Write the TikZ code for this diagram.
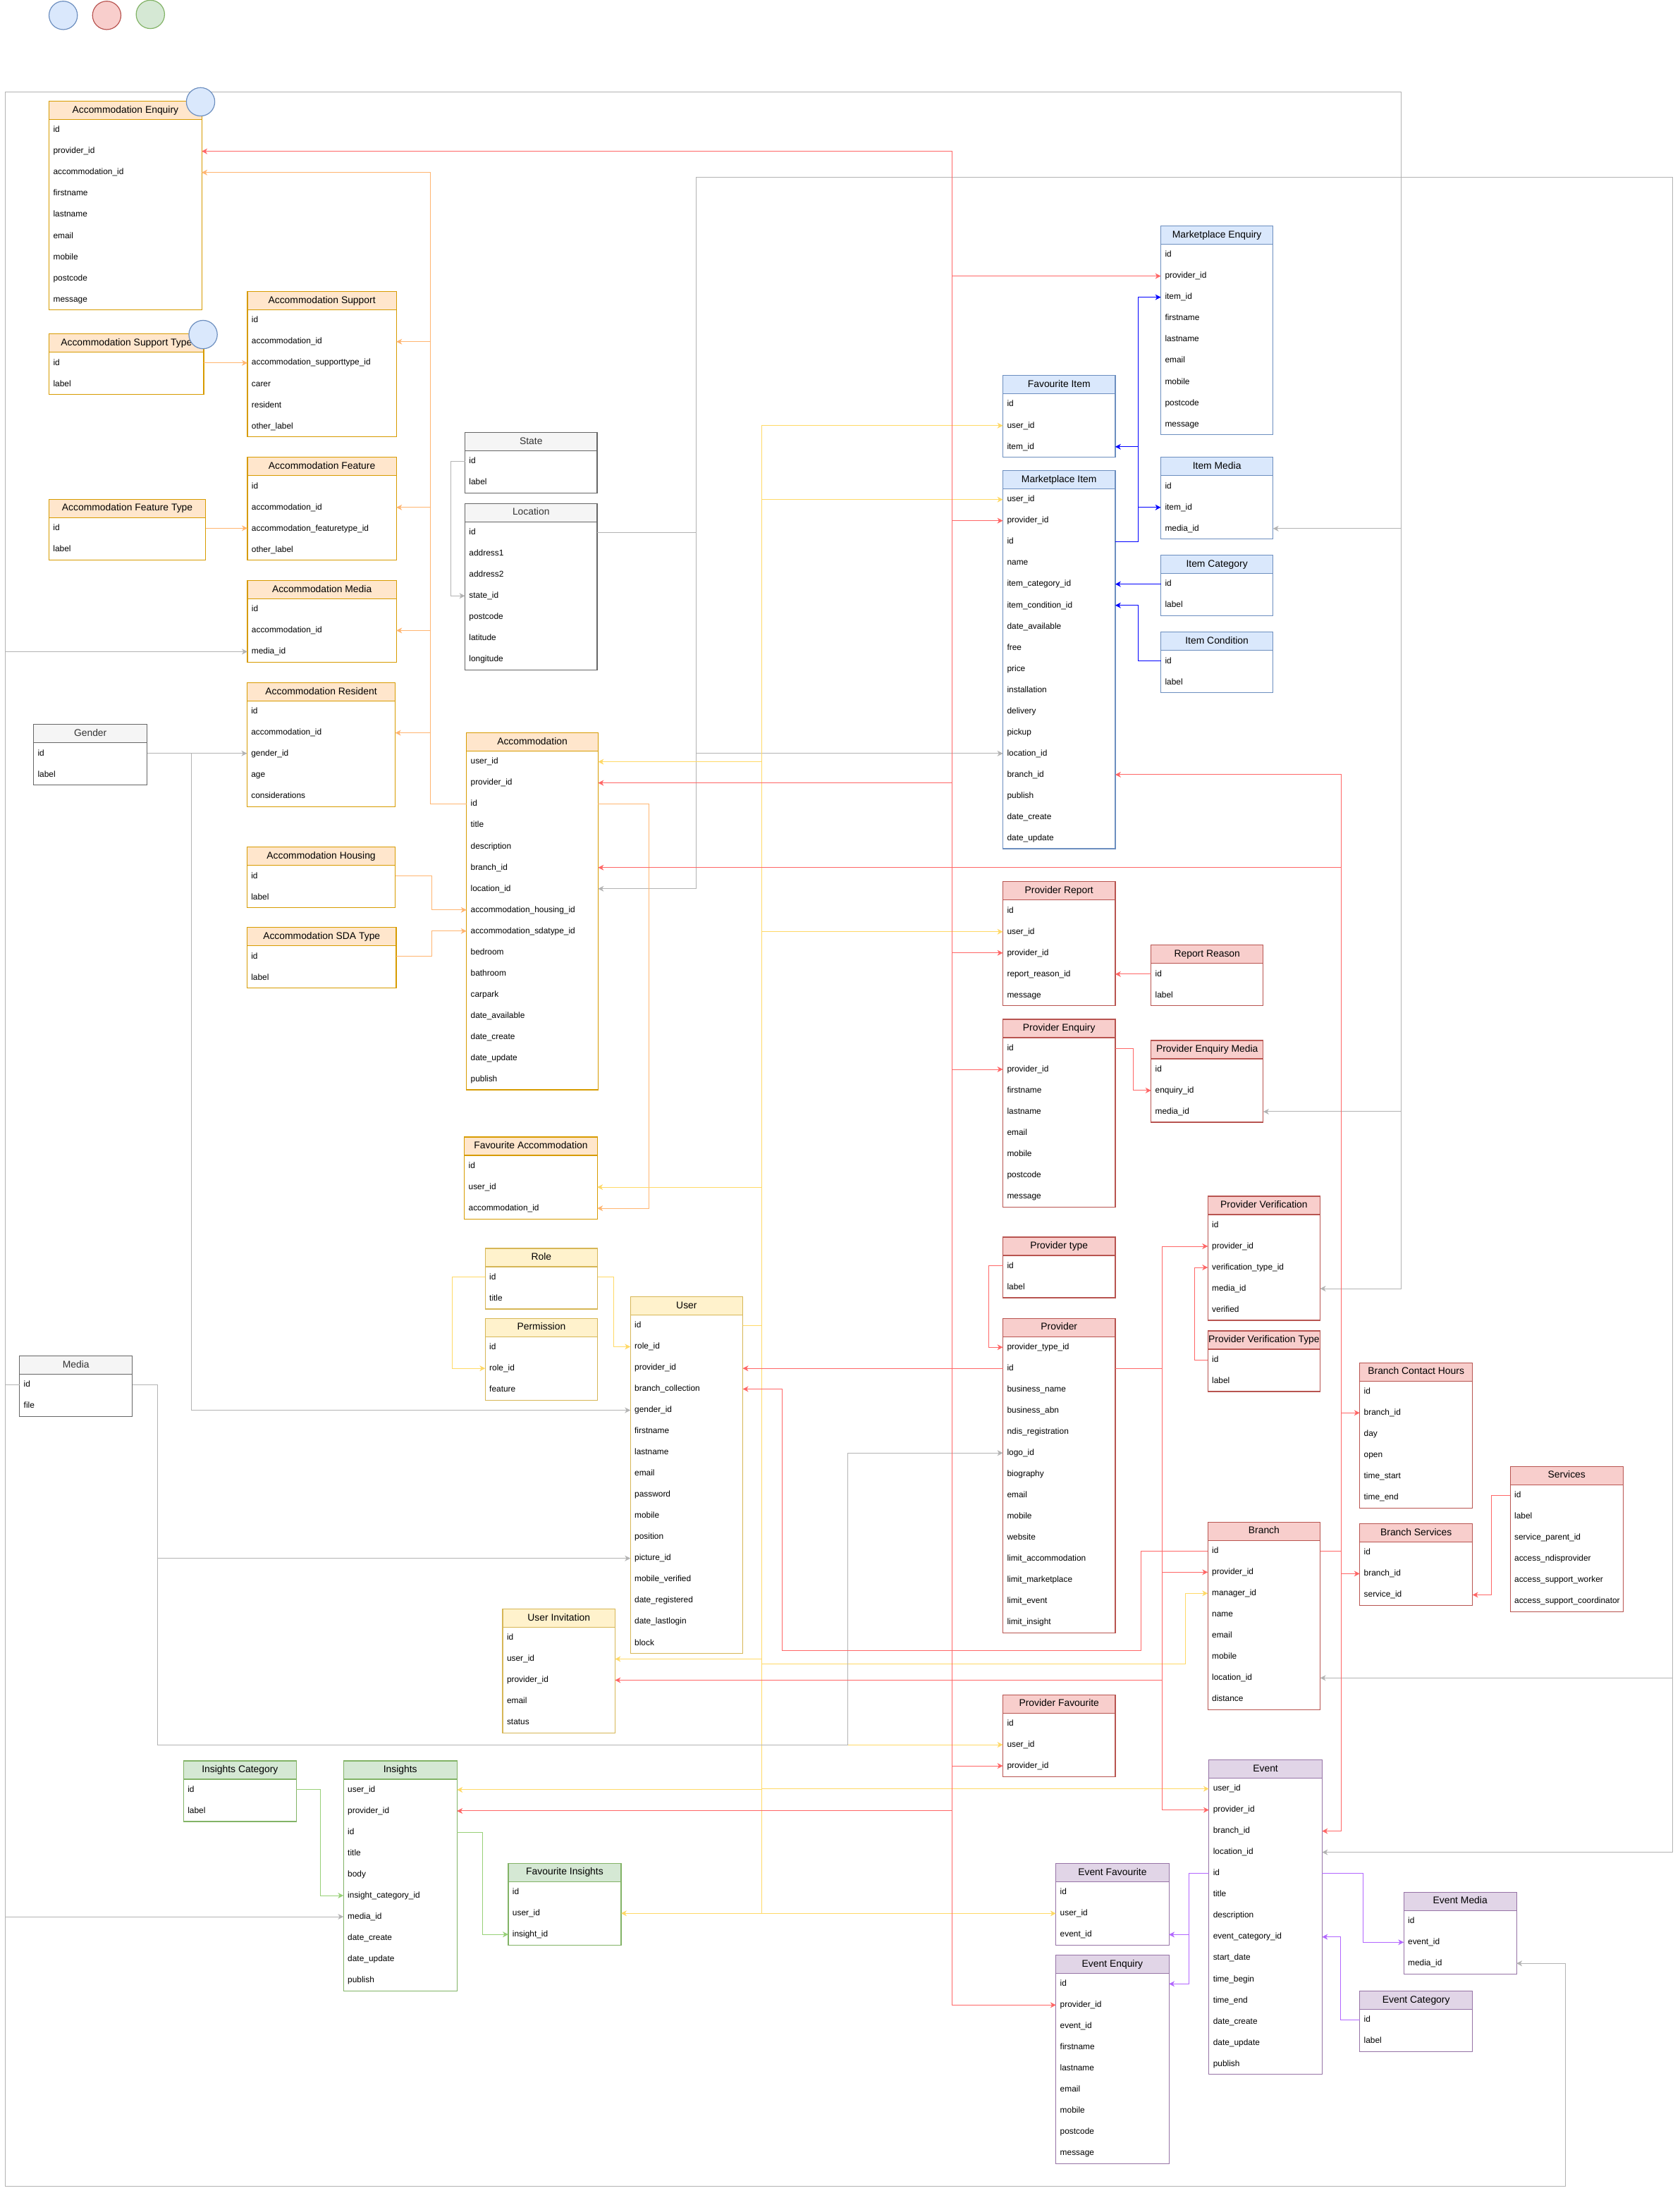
\documentclass[tikz,border=0pt]{standalone}
\usepackage{fontspec}
\setmainfont{Liberation Sans}
\usetikzlibrary{arrows.meta}
\definecolor{oraF}{HTML}{FFE6CC}\definecolor{oraS}{HTML}{D79B00}\definecolor{oraT}{HTML}{000000}
\definecolor{yelF}{HTML}{FFF2CC}\definecolor{yelS}{HTML}{D6B656}\definecolor{yelT}{HTML}{000000}
\definecolor{gryF}{HTML}{F5F5F5}\definecolor{gryS}{HTML}{666666}\definecolor{gryT}{HTML}{333333}
\definecolor{bluF}{HTML}{DAE8FC}\definecolor{bluS}{HTML}{6C8EBF}\definecolor{bluT}{HTML}{000000}
\definecolor{redF}{HTML}{F8CECC}\definecolor{redS}{HTML}{B85450}\definecolor{redT}{HTML}{000000}
\definecolor{grnF}{HTML}{D5E8D4}\definecolor{grnS}{HTML}{82B366}\definecolor{grnT}{HTML}{000000}
\definecolor{purF}{HTML}{E1D5E7}\definecolor{purS}{HTML}{9673A6}\definecolor{purT}{HTML}{000000}
\definecolor{cOra}{HTML}{FFB570}
\definecolor{cYel}{HTML}{FFD966}
\definecolor{cRed}{HTML}{FF6666}
\definecolor{cBlu}{HTML}{0000FF}
\definecolor{cGrn}{HTML}{97D077}
\definecolor{cPur}{HTML}{B266FF}
\definecolor{cGry}{HTML}{B3B3B3}
\tikzset{
  hdr/.style={anchor=north west, minimum height=13.1pt, inner sep=0pt, outer sep=0pt, line width=0.6pt, text height=5.1pt, text depth=1.4pt, font=\fontsize{7}{8}\selectfont},
  rowcell/.style={anchor=north west, minimum height=15.13pt, inner xsep=3pt, inner ysep=0pt, outer sep=0pt, align=left, text height=4.6pt, text depth=1.3pt, font=\fontsize{6}{7}\selectfont},
  tblbox/.style={line width=0.6pt},
  conn/.style={line width=0.5pt, -{Stealth[length=4pt,width=4pt,inset=1.2pt]}},
  lnOra/.style={conn, draw=cOra},
  lnYel/.style={conn, draw=cYel},
  lnRed/.style={conn, draw=cRed},
  lnBlu/.style={conn, draw=cBlu},
  lnGrn/.style={conn, draw=cGrn},
  lnPur/.style={conn, draw=cPur},
  lnGry/.style={conn, draw=cGry},
  dot/.style={circle, minimum size=20.3pt, inner sep=0pt, line width=0.6pt},
}
\newcommand\tbl[7]{%
  \node[hdr, fill=#6F, draw=#6S, text=#6T, minimum width=#4pt] (#1) at (#2,#3) {#5};
  \pgfmathsetmacro\tblw{#4-6}%
  \foreach \fld [count=\rowi] in {#7} {%
    \node[rowcell, text width=\tblw pt] (#1\rowi) at ({#2},{#3+13.1+(\rowi-1)*15.13}) {\fld};
    \xdef\tbllast{\rowi}%
  }%
  \draw[tblbox, draw=#6S] (#1.north west) rectangle (#1\tbllast.south east);
}
\newcommand\lnk[4]{\draw[#1] (#2) -- (#2 -| #3) |- (#4);}
\newcommand\lns[3]{\draw[#1] (#2) -- (#2 -| #3);}
\begin{document}
\catcode`\_=12
\begin{tikzpicture}[x=1pt,y=-1pt]
\useasboundingbox (0,0) rectangle (1200.6,1568);
\fill[white] (0,0) rectangle (1200.6,1568);

% ---------------- tables ----------------
\tbl{ae}{35.1}{72.4}{109.1}{Accommodation Enquiry}{ora}{id,provider_id,accommodation_id,firstname,lastname,email,mobile,postcode,message}
\tbl{ast}{35.1}{238.8}{110.6}{Accommodation Support Type}{ora}{id,label}
\tbl{as}{176.9}{208.5}{106.5}{Accommodation Support}{ora}{id,accommodation_id,accommodation_supporttype_id,carer,resident,other_label}
\tbl{aft}{35}{357}{112}{Accommodation Feature Type}{ora}{id,label}
\tbl{af}{176.9}{327}{106.5}{Accommodation Feature}{ora}{id,accommodation_id,accommodation_featuretype_id,other_label}
\tbl{am}{176.9}{415}{106.5}{Accommodation Media}{ora}{id,accommodation_id,media_id}
\tbl{ar}{176.6}{488.2}{106}{Accommodation Resident}{ora}{id,accommodation_id,gender_id,age,considerations}
\tbl{ah}{176.6}{605.7}{106}{Accommodation Housing}{ora}{id,label}
\tbl{asda}{176.6}{663.2}{106.7}{Accommodation SDA Type}{ora}{id,label}
\tbl{gen}{24}{518}{81.2}{Gender}{gry}{id,label}
\tbl{st}{332.4}{309.2}{94.5}{State}{gry}{id,label}
\tbl{loc}{332.4}{360}{94.5}{Location}{gry}{id,address1,address2,state_id,postcode,latitude,longitude}
\tbl{acc}{333.5}{524}{94.1}{Accommodation}{ora}{user_id,provider_id,id,title,description,branch_id,location_id,accommodation_housing_id,accommodation_sdatype_id,bedroom,bathroom,carpark,date_available,date_create,date_update,publish}
\tbl{fa}{332}{813}{95}{Favourite Accommodation}{ora}{id,user_id,accommodation_id}
\tbl{role}{346.9}{892.6}{80.3}{Role}{yel}{id,title}
\tbl{perm}{346.9}{942.6}{80.3}{Permission}{yel}{id,role_id,feature}
\tbl{usr}{450.7}{927.1}{80.3}{User}{yel}{id,role_id,provider_id,branch_collection,gender_id,firstname,lastname,email,password,mobile,position,picture_id,mobile_verified,date_registered,date_lastlogin,block}
\tbl{ui}{359.4}{1150.4}{80.3}{User Invitation}{yel}{id,user_id,provider_id,email,status}
\tbl{med}{14}{969.5}{80.6}{Media}{gry}{id,file}
\tbl{ic}{131.2}{1259}{80.7}{Insights Category}{grn}{id,label}
\tbl{ins}{245.6}{1259}{81.1}{Insights}{grn}{user_id,provider_id,id,title,body,insight_category_id,media_id,date_create,date_update,publish}
\tbl{fins}{363.4}{1332.2}{80.6}{Favourite Insights}{grn}{id,user_id,insight_id}
\tbl{me}{829.9}{161.6}{80.2}{Marketplace Enquiry}{blu}{id,provider_id,item_id,firstname,lastname,email,mobile,postcode,message}
\tbl{fit}{717}{268.5}{80.3}{Favourite Item}{blu}{id,user_id,item_id}
\tbl{mi}{717}{336.5}{80.3}{Marketplace Item}{blu}{user_id,provider_id,id,name,item_category_id,item_condition_id,date_available,free,price,installation,delivery,pickup,location_id,branch_id,publish,date_create,date_update}
\tbl{imd}{829.9}{327}{80.2}{Item Media}{blu}{id,item_id,media_id}
\tbl{icat}{829.9}{397}{80.2}{Item Category}{blu}{id,label}
\tbl{icond}{829.9}{452}{80.2}{Item Condition}{blu}{id,label}
\tbl{pr}{717}{630.4}{80.3}{Provider Report}{red}{id,user_id,provider_id,report_reason_id,message}
\tbl{rr}{822.9}{675.8}{80.2}{Report Reason}{red}{id,label}
\tbl{pe}{717}{728.8}{80.3}{Provider Enquiry}{red}{id,provider_id,firstname,lastname,email,mobile,postcode,message}
\tbl{pem}{822.9}{743.9}{80.2}{Provider Enquiry Media}{red}{id,enquiry_id,media_id}
\tbl{pt}{717}{884.5}{80.3}{Provider type}{red}{id,label}
\tbl{prov}{717}{942.6}{80.3}{Provider}{red}{provider_type_id,id,business_name,business_abn,ndis_registration,logo_id,biography,email,mobile,website,limit_accommodation,limit_marketplace,limit_event,limit_insight}
\tbl{pv}{863.5}{855.3}{80.3}{Provider Verification}{red}{id,provider_id,verification_type_id,media_id,verified}
\tbl{pvt}{863.5}{951.6}{80.3}{Provider Verification Type}{red}{id,label}
\tbl{bch}{972.1}{974.4}{80.6}{Branch Contact Hours}{red}{id,branch_id,day,open,time_start,time_end}
\tbl{srv}{1079.7}{1048.4}{80.7}{Services}{red}{id,label,service_parent_id,access_ndisprovider,access_support_worker,access_support_coordinator}
\tbl{bs}{972.1}{1089.4}{80.6}{Branch Services}{red}{id,branch_id,service_id}
\tbl{br}{863.5}{1088.3}{80.3}{Branch}{red}{id,provider_id,manager_id,name,email,mobile,location_id,distance}
\tbl{pf}{717}{1211.7}{80.3}{Provider Favourite}{red}{id,user_id,provider_id}
\tbl{ev}{864.3}{1258.3}{80.9}{Event}{pur}{user_id,provider_id,branch_id,location_id,id,title,description,event_category_id,start_date,time_begin,time_end,date_create,date_update,publish}
\tbl{ef}{754.9}{1332.3}{80.8}{Event Favourite}{pur}{id,user_id,event_id}
\tbl{ee}{754.9}{1397.8}{80.8}{Event Enquiry}{pur}{id,provider_id,event_id,firstname,lastname,email,mobile,postcode,message}
\tbl{emd}{1003.6}{1352.9}{80.6}{Event Media}{pur}{id,event_id,media_id}
\tbl{ecat}{972.1}{1423.5}{80.6}{Event Category}{pur}{id,label}

% ---------------- routing coordinates ----------------
\coordinate (xOra) at (307.7,0);
\coordinate (xFA) at (464,0);
\coordinate (xHs) at (308.5,0);
\coordinate (xYel) at (544.5,0);
\coordinate (xRoleR) at (438.9,0);
\coordinate (xRoleL) at (323.3,0);
\coordinate (cMgrA) at (544.5,1189.6);
\coordinate (cMgrB) at (847.6,1189.6);
\coordinate (xRed) at (680.8,0);
\coordinate (xPv) at (831,0);
\coordinate (xPt) at (707,0);
\coordinate (xPe) at (810,0);
\coordinate (xPvt) at (854.2,0);
\coordinate (xSrv) at (1066.2,0);
\coordinate (cBrA) at (815.5,1180);
\coordinate (cBrB) at (559.4,1180);
\coordinate (xBr) at (958.7,0);
\coordinate (xBlu) at (813.7,0);
\coordinate (xIc) at (229.2,0);
\coordinate (xIns) at (345,0);
\coordinate (xEvL) at (850.2,0);
\coordinate (xEvR) at (974.3,0);
\coordinate (xEcat) at (958.6,0);
\coordinate (xSt) at (322.3,0);
\coordinate (xLoc) at (497.7,0);
\coordinate (cLocA) at (497.7,127);
\coordinate (cLocB) at (1196,127);
\coordinate (xGen) at (136.8,0);
\coordinate (xMedL) at (3.8,0);
\coordinate (cMedTL) at (3.8,66);
\coordinate (cMedTR) at (1001.6,66);
\coordinate (cMedBL) at (3.8,1563);
\coordinate (cMedBR) at (1119,1563);
\coordinate (xMedR) at (112.4,0);
\coordinate (cMedC) at (112.4,1247.6);
\coordinate (cMedD) at (606.2,1247.6);

% ---------------- gray (location, state, gender, media) ----------------
\lnk{lnGry}{st1.west}{xSt}{loc4.west}
\lnk{lnGry}{loc1.east}{xLoc}{acc7.east}
\lnk{lnGry}{loc1.east}{xLoc}{mi13.west}
\draw[lnGry] (loc1.east) -| (cLocA) -- (cLocB) |- (ev4.east);
\draw[lnGry] (loc1.east) -| (cLocA) -- (cLocB) |- (br7.east);
\lns{lnGry}{gen1.east}{ar3.west}
\lnk{lnGry}{gen1.east}{xGen}{usr5.west}
\draw[lnGry] (med1.west) -| (cMedTL) -- (cMedTR) |- (pv4.east);
\draw[lnGry] (med1.west) -| (cMedTL) -- (cMedTR) |- (imd3.east);
\draw[lnGry] (med1.west) -| (cMedTL) -- (cMedTR) |- (pem3.east);
\lnk{lnGry}{med1.west}{xMedL}{am3.west}
\lnk{lnGry}{med1.west}{xMedL}{ins7.west}
\draw[lnGry] (med1.west) -| (cMedBL) -- (cMedBR) |- (emd3.east);
\lnk{lnGry}{med1.east}{xMedR}{usr12.west}

% ---------------- orange (accommodation) ----------------
\lnk{lnOra}{acc3.west}{xOra}{ae3.east}
\lnk{lnOra}{acc3.west}{xOra}{as2.east}
\lnk{lnOra}{acc3.west}{xOra}{af2.east}
\lnk{lnOra}{acc3.west}{xOra}{am2.east}
\lnk{lnOra}{acc3.west}{xOra}{ar2.east}
\lnk{lnOra}{acc3.east}{xFA}{fa3.east}
\lns{lnOra}{ast1.east}{as3.west}
\lns{lnOra}{aft1.east}{af3.west}
\lnk{lnOra}{ah1.east}{xHs}{acc8.west}
\lnk{lnOra}{asda1.east}{xHs}{acc9.west}

% ---------------- yellow (user) ----------------
\lnk{lnYel}{role1.west}{xRoleL}{perm2.west}
\lnk{lnYel}{role1.east}{xRoleR}{usr2.west}
\lnk{lnYel}{usr1.east}{xYel}{fit2.west}
\lnk{lnYel}{usr1.east}{xYel}{mi1.west}
\lnk{lnYel}{usr1.east}{xYel}{acc1.east}
\lnk{lnYel}{usr1.east}{xYel}{pr2.west}
\lnk{lnYel}{usr1.east}{xYel}{fa2.east}
\lnk{lnYel}{usr1.east}{xYel}{ui2.east}
\lnk{lnYel}{usr1.east}{xYel}{pf2.west}
\lnk{lnYel}{usr1.east}{xYel}{ins1.east}
\lnk{lnYel}{usr1.east}{xYel}{ev1.west}
\lnk{lnYel}{usr1.east}{xYel}{fins2.east}
\lnk{lnYel}{usr1.east}{xYel}{ef2.west}
\draw[lnYel] (usr1.east) -| (cMgrA) -- (cMgrB) |- (br3.west);
\draw[lnGry] (med1.east) -| (cMedC) -- (cMedD) |- (prov6.west);

% ---------------- red (provider, branch) ----------------
\lns{lnRed}{prov2.west}{usr3.east}
\lnk{lnRed}{prov2.west}{xRed}{ae2.east}
\lnk{lnRed}{prov2.west}{xRed}{me2.west}
\lnk{lnRed}{prov2.west}{xRed}{mi2.west}
\lnk{lnRed}{prov2.west}{xRed}{acc2.east}
\lnk{lnRed}{prov2.west}{xRed}{pr3.west}
\lnk{lnRed}{prov2.west}{xRed}{pe2.west}
\lnk{lnRed}{prov2.west}{xRed}{pf3.west}
\lnk{lnRed}{prov2.west}{xRed}{ins2.east}
\lnk{lnRed}{prov2.west}{xRed}{ee2.west}
\lnk{lnRed}{prov2.east}{xPv}{pv2.west}
\lnk{lnRed}{prov2.east}{xPv}{br2.west}
\lnk{lnRed}{prov2.east}{xPv}{ui3.east}
\lnk{lnRed}{prov2.east}{xPv}{ev2.west}
\lnk{lnRed}{pt1.west}{xPt}{prov1.west}
\lns{lnRed}{rr1.west}{pr4.east}
\lnk{lnRed}{pe1.east}{xPe}{pem2.west}
\lnk{lnRed}{pvt1.west}{xPvt}{pv3.west}
\lnk{lnRed}{srv1.west}{xSrv}{bs3.east}
\draw[lnRed] (br1.west) -| (cBrA) -- (cBrB) |- (usr4.east);
\lnk{lnRed}{br1.east}{xBr}{mi14.east}
\lnk{lnRed}{br1.east}{xBr}{acc6.east}
\lnk{lnRed}{br1.east}{xBr}{bch2.west}
\lnk{lnRed}{br1.east}{xBr}{bs2.west}
\lnk{lnRed}{br1.east}{xBr}{ev3.east}

% ---------------- blue (marketplace) ----------------
\lnk{lnBlu}{mi3.east}{xBlu}{me3.west}
\lnk{lnBlu}{mi3.east}{xBlu}{fit3.east}
\lnk{lnBlu}{mi3.east}{xBlu}{imd2.west}
\lns{lnBlu}{icat1.west}{mi5.east}
\lnk{lnBlu}{icond1.west}{xBlu}{mi6.east}

% ---------------- green (insights) ----------------
\lnk{lnGrn}{ic1.east}{xIc}{ins6.west}
\lnk{lnGrn}{ins3.east}{xIns}{fins3.west}

% ---------------- purple (events) ----------------
\lnk{lnPur}{ev5.west}{xEvL}{ef3.east}
\lnk{lnPur}{ev5.west}{xEvL}{ee1.east}
\lnk{lnPur}{ev5.east}{xEvR}{emd2.west}
\lnk{lnPur}{ecat1.west}{xEcat}{ev8.east}

% ---------------- circles ----------------
\node[dot, fill=bluF, draw=bluS] (dotA) at (45.2,11) {};
\node[dot, fill=redF, draw=redS] (dotB) at (76.3,11) {};
\node[dot, fill=grnF, draw=grnS] (dotC) at (107.5,10.3) {};
\node[dot, fill=bluF, draw=bluS] (dotD) at (143.4,72.8) {};
\node[dot, fill=bluF, draw=bluS] (dotE) at (145.2,239.2) {};
\end{tikzpicture}
\end{document}
